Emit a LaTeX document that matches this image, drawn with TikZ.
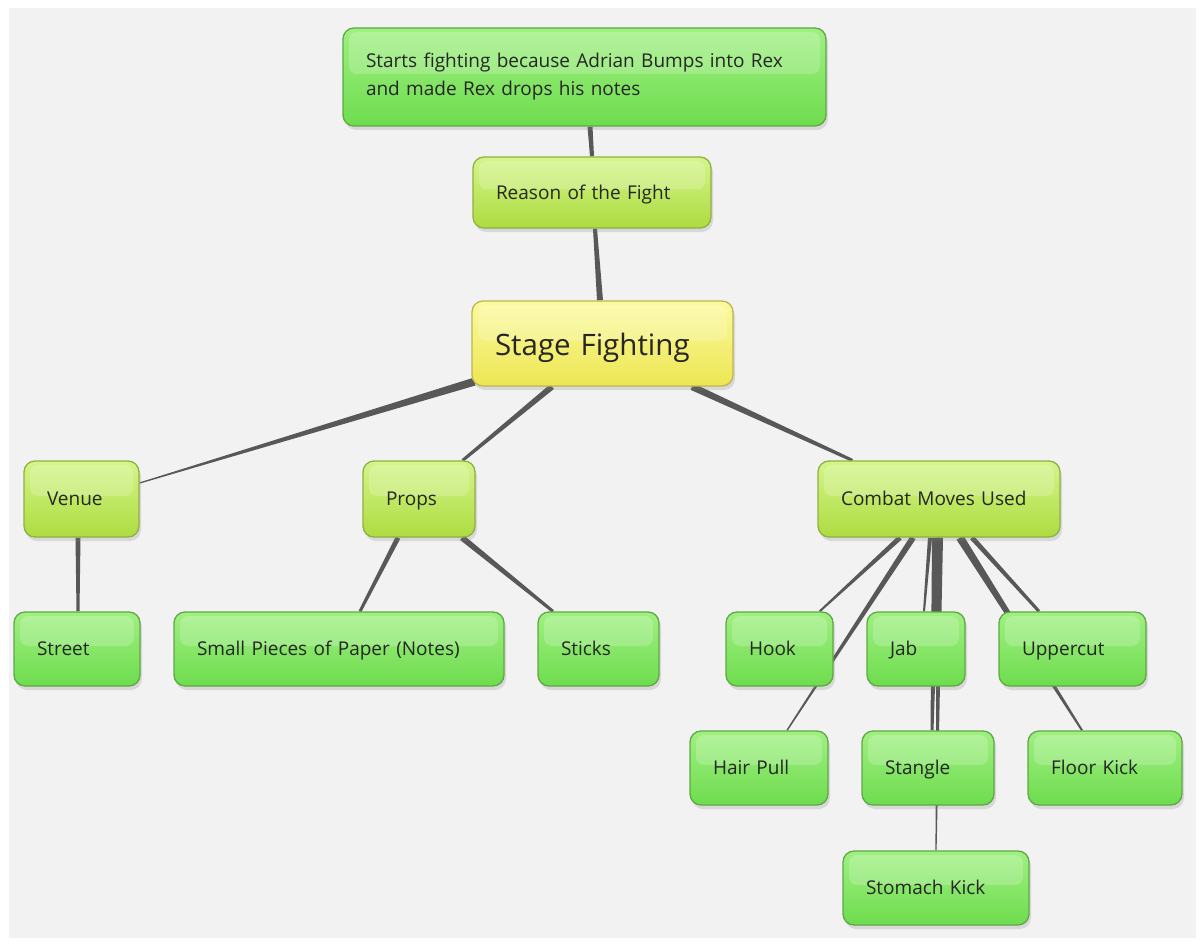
\documentclass[tikz,border=0pt]{standalone}
\usepackage{fontspec}
\setmainfont{Open Sans}
\usetikzlibrary{calc,shadows,backgrounds}
\definecolor{bgcol}{HTML}{F2F2F2}
\definecolor{conncol}{HTML}{585858}
\definecolor{gtop}{HTML}{A0F082}
\definecolor{gbot}{HTML}{6EDC4E}
\definecolor{gborder}{HTML}{5FA845}
\definecolor{ltop}{HTML}{D4F58A}
\definecolor{lbot}{HTML}{ADDC40}
\definecolor{lborder}{HTML}{8FB044}
\definecolor{ytop}{HTML}{FBFA9E}
\definecolor{ybot}{HTML}{EDE653}
\definecolor{yborder}{HTML}{BDB650}
\tikzset{
  base/.style={rectangle, rounded corners=11pt, draw, line width=1.3pt,
    inner xsep=23pt, inner ysep=2pt, align=left, text=black!85,
    font=\fontsize{19}{28}\selectfont,
    drop shadow={opacity=0.22, shadow xshift=2pt, shadow yshift=-4pt},
    path picture={\fill[white,opacity=0.2,rounded corners=8pt]
      ([xshift=6pt,yshift=-4pt]path picture bounding box.north west) rectangle
      ([xshift=-6pt,yshift=3pt]path picture bounding box.east);}},
  one/.style={text height=17.6pt, text depth=4pt},
  gbox/.style={base, one, draw=gborder, top color=gtop, bottom color=gbot},
  lbox/.style={base, one, draw=lborder, top color=ltop, bottom color=lbot},
  twoline/.style={base, draw=gborder, top color=gtop, bottom color=gbot},
  ybox/.style={base, draw=yborder, top color=ytop, bottom color=ybot,
    font=\fontsize{29.5}{34}\selectfont, text height=30pt, text depth=6pt},
  conn/.style={fill=conncol},
}
\newcommand\bx[7]{%
  \pgfmathsetmacro\bw{#5-#3}\pgfmathsetmacro\bh{#6-#4}\pgfmathsetmacro\tw{#5-#3-46}%
  \node[#1, minimum width=\bw pt, minimum height=\bh pt, text width=\tw pt]
    (#2) at ({(#3+#5)/2},{(#4+#6)/2}) {#7};}
\newcommand\taper[4]{%
  \fill[conn] ($(#1)!#3!90:(#2)$) -- ($(#2)!#4!-90:(#1)$) --
    ($(#2)!#4!90:(#1)$) -- ($(#1)!#3!-90:(#2)$) -- cycle;}
\begin{document}
\begin{tikzpicture}[x=1pt,y=-1pt]
\useasboundingbox (0,0) rectangle (1201,944);
\begin{scope}[on background layer]
\fill[white] (0,0) rectangle (1201,944);
\fill[bgcol] (9,8) rectangle (1196,938);
\end{scope}

\bx{twoline}{top}{343}{28}{826}{126}{\mbox{Starts fighting because Adrian Bumps into Rex}\\\mbox{and made Rex drops his notes}}
\bx{lbox}{reason}{473}{157}{711}{228}{Reason of the Fight}
\bx{ybox}{stage}{472}{301}{733}{386}{Stage Fighting}
\bx{lbox}{venue}{24}{461}{139}{537}{Venue}
\bx{lbox}{props}{363}{461}{475}{537}{Props}
\bx{lbox}{combat}{818}{461}{1060}{537}{Combat Moves Used}
\bx{gbox}{street}{14}{612}{140}{686}{Street}
\bx{gbox}{small}{174}{612}{504}{686}{Small Pieces of Paper (Notes)}
\bx{gbox}{sticks}{538}{612}{659}{686}{Sticks}
\bx{gbox}{hook}{726}{612}{833}{686}{Hook}
\bx{gbox}{jab}{867}{612}{965}{686}{Jab}
\bx{gbox}{upper}{999}{612}{1146}{686}{Uppercut}
\bx{gbox}{hair}{690}{731}{828}{805}{Hair Pull}
\bx{gbox}{stangle}{862}{731}{994}{805}{Stangle}
\bx{gbox}{floor}{1028}{731}{1182}{805}{Floor Kick}
\bx{gbox}{stomach}{843}{851}{1029}{925}{Stomach Kick}

\begin{scope}[on background layer]
\coordinate (a1) at ([xshift=5.5pt]top.south);
\coordinate (b1) at (reason.north);
\taper{a1}{b1}{2.5pt}{2pt}
\coordinate (a2) at ([xshift=-2.5pt]stage.north);
\coordinate (b2) at ([xshift=3pt]reason.south);
\taper{a2}{b2}{3pt}{2pt}
\coordinate (a3) at ([xshift=3pt,yshift=5pt]stage.south west);
\coordinate (b3) at ([yshift=16pt]venue.east);
\taper{a3}{b3}{4pt}{0.6pt}
\coordinate (a4) at ([xshift=-50.5pt]stage.south);
\coordinate (b4) at ([xshift=-13pt]props.north east);
\taper{a4}{b4}{3pt}{1.5pt}
\coordinate (a5) at ([xshift=89.5pt]stage.south);
\coordinate (b5) at ([xshift=35pt]combat.north west);
\taper{a5}{b5}{3.5pt}{1.5pt}
\coordinate (a6) at ([xshift=-3.5pt]venue.south);
\coordinate (b6) at ([xshift=1pt]street.north);
\taper{a6}{b6}{2.5pt}{1.5pt}
\coordinate (a7) at ([xshift=-21pt]props.south);
\coordinate (b7) at ([xshift=21pt]small.north);
\taper{a7}{b7}{2.5pt}{1.5pt}
\coordinate (a8) at ([xshift=43pt]props.south);
\coordinate (b8) at ([xshift=-45.5pt]sticks.north);
\taper{a8}{b8}{3pt}{1.5pt}
\coordinate (a9) at ([xshift=-39pt]combat.south);
\coordinate (b9) at ([xshift=-14pt]hook.north east);
\taper{a9}{b9}{2.5pt}{1pt}
\coordinate (a10) at ([xshift=-26pt]combat.south);
\coordinate (b10) at ([xshift=28pt]hair.north);
\taper{a10}{b10}{3pt}{0.7pt}
\coordinate (a11) at ([xshift=-9pt]combat.south);
\coordinate (b11) at ([xshift=8pt]jab.north);
\taper{a11}{b11}{2pt}{1pt}
\coordinate (a12) at ([xshift=-3pt]combat.south);
\coordinate (b12) at ([xshift=4pt]stangle.north);
\taper{a12}{b12}{4pt}{1.5pt}
\coordinate (a13) at ([xshift=1pt]combat.south);
\coordinate (b13) at (stomach.north);
\taper{a13}{b13}{3pt}{0.6pt}
\coordinate (a14) at ([xshift=21pt]combat.south);
\coordinate (b14) at ([xshift=-23pt]floor.north);
\taper{a14}{b14}{4pt}{1pt}
\coordinate (a15) at ([xshift=33pt]combat.south);
\coordinate (b15) at ([xshift=-33.5pt]upper.north);
\taper{a15}{b15}{2.5pt}{1.5pt}
\end{scope}
\end{tikzpicture}
\end{document}
